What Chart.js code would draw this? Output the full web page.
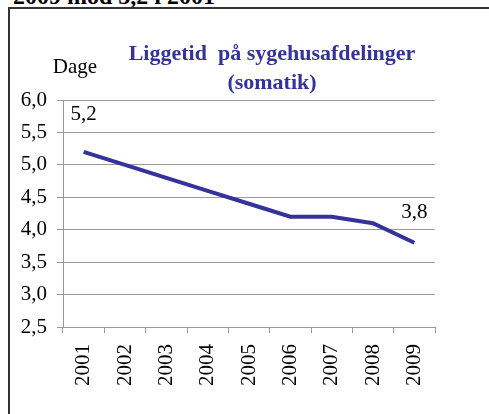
<!DOCTYPE html>
<html lang="da">
<head>
  <meta charset="UTF-8">
  <title>Liggetid på sygehusafdelinger</title>
  <script src="https://cdn.jsdelivr.net/npm/chart.js"></script>
  <style>
    html, body { margin: 0; padding: 0; background: #fff; overflow: hidden; width: 489px; height: 414px; }
    #overskrift {
      position: absolute; left: 13px; top: -16px;
      font: bold 24px "Liberation Serif", "Times New Roman", serif;
      line-height: 24px; color: #000; white-space: nowrap;
    }
    #ramme {
      position: absolute; left: 8px; top: 7px; width: 540px; height: 460px;
      border: 2px solid #333;
    }
    #boks { position: absolute; left: 10px; top: 9px; width: 524px; height: 405px; }
  </style>
</head>
<body>
  <div id="overskrift">2009 mod 5,2 i 2001</div>
  <div id="ramme"></div>
  <div id="boks"><canvas id="grafLiggetid"></canvas></div>

  <script>
    // data
    const aar = ['2001', '2002', '2003', '2004', '2005', '2006', '2007', '2008', '2009'];
    const liggetid = [5.2, 5.0, 4.8, 4.6, 4.4, 4.2, 4.2, 4.1, 3.8];
    const yTicks = [2.5, 3.0, 3.5, 4.0, 4.5, 5.0, 5.5, 6.0];
    const titelLinjer = ['Liggetid  på sygehusafdelinger', '(somatik)'];
    const enhed = 'Dage';
    const visVaerdiFor = [0, 8]; // kun første og sidste punkt har etiket

    const blaa = '#333399';
    const serif = '"Liberation Serif", "Times New Roman", serif';

    const komma = v => v.toFixed(1).replace('.', ',');

    // titel, enhed og værdi-etiketter
    const tekster = {
      id: 'tekster',
      afterDraw(chart) {
        const ctx = chart.ctx;
        const area = chart.chartArea;
        ctx.save();
        ctx.textBaseline = 'middle';

        ctx.fillStyle = blaa;
        ctx.font = 'bold 22px ' + serif;
        ctx.textAlign = 'center';
        ctx.fillText(titelLinjer[0], chart.width / 2, 45);
        ctx.fillText(titelLinjer[1], chart.width / 2, 74);

        ctx.fillStyle = '#000';
        ctx.font = '21px ' + serif;
        ctx.fillText(enhed, area.left + 12, 58);

        const meta = chart.getDatasetMeta(0);
        visVaerdiFor.forEach((i, n) => {
          const p = meta.data[i];
          const op = n === 0 ? 37 : 30;
          ctx.fillText(komma(liggetid[i]), p.x, p.y - op);
        });
        ctx.restore();
      }
    };

    const ctx = document.getElementById('grafLiggetid').getContext('2d');
    new Chart(ctx, {
      type: 'line',
      data: {
        labels: aar,
        datasets: [{
          label: 'Liggetid',
          data: liggetid,
          borderColor: blaa,
          borderWidth: 4,
          pointRadius: 0,
          tension: 0,
          fill: false
        }]
      },
      options: {
        responsive: true,
        maintainAspectRatio: false,
        animation: false,
        layout: { padding: { top: 91, right: 99, left: 0, bottom: 0 } },
        plugins: {
          legend: { display: false },
          tooltip: { enabled: false }
        },
        scales: {
          x: {
            offset: true,
            afterFit: s => { s.height = 87; },
            border: { color: '#999', width: 1 },
            grid: { offset: true, drawOnChartArea: false, drawTicks: true, tickLength: 6, color: '#999' },
            ticks: {
              color: '#000',
              font: { family: serif, size: 21 },
              minRotation: 90,
              maxRotation: 90,
              padding: 11,
              autoSkip: false
            }
          },
          y: {
            min: 2.5,
            max: 6.0,
            afterFit: s => { s.width = 53; },
            afterBuildTicks: s => { s.ticks = yTicks.map(v => ({ value: v })); },
            border: { color: '#999', width: 1 },
            grid: { color: '#999', tickLength: 6 },
            ticks: {
              color: '#000',
              font: { family: serif, size: 21 },
              padding: 10,
              callback: v => komma(v)
            }
          }
        }
      },
      plugins: [tekster]
    });
  </script>
</body>
</html>
